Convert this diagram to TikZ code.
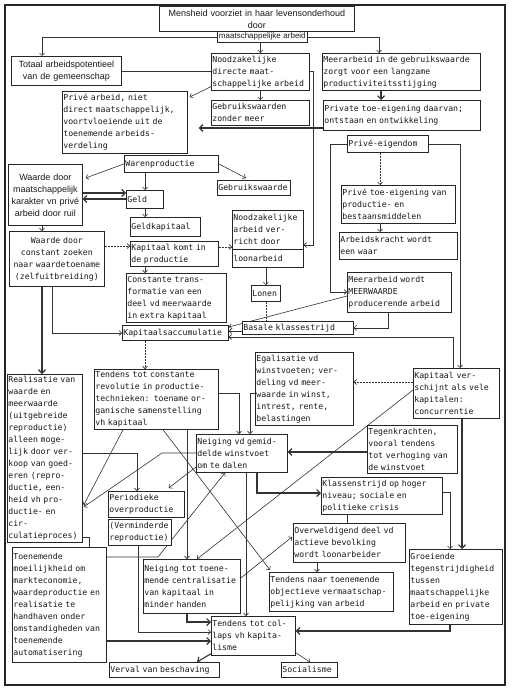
\documentclass[tikz,border=0pt]{standalone}
\usepackage{fontspec}
\newfontfamily\sansf{Liberation Sans}
\newfontfamily\monof{DejaVu Sans Mono}
\usetikzlibrary{arrows.meta,calc}
\pgfdeclarelayer{bg}
\pgfdeclarelayer{paper}
\pgfsetlayers{paper,bg,main}
\tikzset{
 box/.style={draw=black!85, line width=0.7pt, fill=white, inner xsep=1pt, inner ysep=0.5pt, align=left, font=\monof\fontsize{8.2}{12}\selectfont, text=black!90},
 sbox/.style={box, align=center, font=\sansf\fontsize{9}{12}\selectfont},
 cbox/.style={box, align=center},
 ln/.style={draw=black!80, line width=0.6pt},
 ar/.style={ln, -{Straight Barb[length=2.5pt,width=5pt]}},
 dar/.style={ar, dashed, dash pattern=on 2pt off 1pt},
 tar/.style={ln, line width=1.1pt, -{Straight Barb[length=3.5pt,width=7pt]}},
}
\newcommand\bx[7][]{%
 \pgfmathsetlengthmacro\bw{(#5-#3)*1pt}%
 \pgfmathsetlengthmacro\bh{(#6-#4)*1pt}%
 \pgfmathsetlengthmacro\tw{(#5-#3)*1pt-2pt}%
 \node[box,anchor=north west,minimum width=\bw,minimum height=\bh,text width=\tw,#1] (#2) at (#3,#4) {#7};}
\begin{document}
\begin{tikzpicture}[x=1pt,y=-1pt]
\begin{pgfonlayer}{paper}
\fill[white] (0,0) rectangle (512,690);
\end{pgfonlayer}
\useasboundingbox (0,0) rectangle (512,690);
\draw[black!85, line width=1.1pt] (5,5) rectangle (505,685);

\bx[sbox]{mens}{159}{6}{354}{31}{Mensheid voorziet in haar levensonderhoud\\door}
\bx[sbox,font=\sansf\fontsize{8}{9}\selectfont]{ma}{217}{31}{307}{42}{maatschappelijke arbeid}
\bx[sbox]{tot}{11}{56}{121}{85}{Totaal arbeidspotentieel\\van de gemeenschap}
\bx{nood}{211}{53}{309}{90}{Noodzakelijke\\directe maat-\\schappelijke arbeid}
\bx{meer}{322}{53}{480}{90}{Meerarbeid in de gebruikswaarde\\zorgt voor een langzame\\productiviteitsstijging}
\bx{priv}{62}{91}{187}{153}{Privé arbeid, niet\\direct maatschappelijk,\\voortvloeiende uit de\\toenemende arbeids-\\verdeling}
\bx{gbzm}{211}{100}{309}{125}{Gebruikswaarden\\zonder meer}
\bx{pte}{323}{100}{480}{130}{Private toe-eigening daarvan;\\ontstaan en ontwikkeling}
\bx{pe}{347}{135}{428}{152}{Privé-eigendom}
\bx{waren}{124}{155}{218}{172}{Warenproductie}
\bx[sbox]{wmk}{8}{164}{82}{225}{Waarde door\\maatschappelijk\\karakter vn privé\\arbeid door ruil}
\bx{gw}{217}{180}{290}{195}{Gebruikswaarde}
\bx{geld}{126}{190}{163}{208}{Geld}
\bx{pteb}{341}{185}{455}{223}{Privé toe-eigening van\\productie- en\\bestaansmiddelen}
\bx{gk}{130}{217}{200}{236}{Geldkapitaal}
\bx{nav}{232}{210}{303}{249}{Noodzakelijke\\arbeid ver-\\richt door}
\bx{loon}{232}{249}{303}{267}{loonarbeid}
\bx{ak}{339}{232}{457}{259}{Arbeidskracht wordt\\een waar}
\bx[cbox]{wcz}{9}{231}{104}{286}{Waarde door\\constant zoeken\\naar waardetoename\\(zelfuitbreiding)}
\bx{kkp}{130}{241}{218}{266}{Kapitaal komt in\\de productie}
\bx{lonen}{251}{285}{280}{301}{Lonen}
\bx{ctf}{126}{273}{226}{322}{Constante trans-\\formatie van een\\deel vd meerwaarde\\in extra kapitaal}
\bx{mwm}{347}{272}{451}{312}{Meerarbeid wordt\\MEERWAARDE\\producerende arbeid}
\bx{kac}{122}{325}{228}{340}{Kapitaalsaccumulatie}
\bx{bks}{242}{321}{353}{334}{Basale klassestrijd}
\bx{trev}{94}{369}{218}{429}{Tendens tot constante\\revolutie in productie-\\technieken: toename or-\\ganische samenstelling\\vh kapitaal}
\bx{egal}{255}{352}{353}{425}{Egalisatie vd\\winstvoeten; ver-\\deling vd meer-\\waarde in winst,\\intrest, rente,\\belastingen}
\bx{kvv}{413}{368}{499}{418}{Kapitaal ver-\\schijnt als vele\\kapitalen:\\concurrentie}
\bx{real}{7}{374}{82}{542}{Realisatie van\\waarde en\\meerwaarde\\(uitgebreide\\reproductie)\\alleen moge-\\lijk door ver-\\koop van goed-\\eren (repro-\\ductie, een-\\heid vh pro-\\ductie- en\\cir-\\culatieproces)}
\bx{ngw}{196}{434}{287}{472}{Neiging vd gemid-\\delde winstvoet\\om te dalen}
\bx{tegen}{367}{425}{457}{473}{Tegenkrachten,\\vooral tendens\\tot verhoging van\\de winstvoet}
\bx{khn}{321}{477}{442}{514}{Klassenstrijd op hoger\\niveau; sociale en\\politieke crisis}
\bx{pov}{108}{491}{184}{517}{Periodieke\\overproductie}
\bx{vr}{108}{519}{171}{545}{(Verminderde\\reproductie)}
\bx{ovw}{293}{523}{405}{562}{Overweldigend deel vd\\actieve bevolking\\wordt loonarbeider}
\bx{groei}{409}{549}{502}{624}{Groeiende\\tegenstrijdigheid\\tussen\\maatschappelijke\\arbeid en private\\toe-eigening}
\bx{toen}{12}{547}{106}{662}{Toenemende\\moeilijkheid om\\markteconomie,\\waardeproductie en\\realisatie te\\handhaven onder\\omstandigheden van\\toenemende\\automatisering}
\bx{ntc}{143}{559}{240}{613}{Neiging tot toene-\\mende centralisatie\\van kapitaal in\\minder handen}
\bx{tno}{269}{572}{393}{611}{Tendens naar toenemende\\objectieve vermaatschap-\\pelijking van arbeid}
\bx{col}{211}{616}{295}{655}{Tendens tot col-\\laps vh kapita-\\lisme}
\bx{verval}{109}{662}{219}{677}{Verval van beschaving}
\bx{soc}{281}{662}{337}{677}{Socialisme}

\begin{pgfonlayer}{bg}
% top
\draw[ar] (ma.west) -| (42,0 |- tot.north);
\draw[ar] (ma.east) -| (379,0 |- meer.north);
\draw[ar] (nood.north |- ma.south) -- (nood.north);
\draw[ar] (tot.east) -- (313,0 |- tot.east) -- (313,245) -- (nav.east |- 0,245);
\draw[ar] (nood.south) -- (gbzm.north);
\draw[ar] ($(nood.south west)+(0,-4)$) -- ($(priv.north east)+(2,6)$);
\draw[tar] (381,0 |- meer.south) -- (381,0 |- pte.north);
\draw[tar, shorten >=11pt] (pte.west |- 0,128) -- (priv.east |- 0,128);
\draw[ar] (pe.west) -| (330,292) -- (mwm.west |- 0,292);
\draw[ar] (pe.east) -| (460,0 |- kvv.north);
\draw[dar] (380,0 |- pe.south) -- (380,0 |- pteb.north);
\draw[ar] (380,0 |- pteb.south) -- (380,0 |- ak.north);
% warenproductie
\draw[ar] (waren.west) -- ($(wmk.east |- 0,178)+(3,0)$);
\draw[ar] (waren.east) -- ($(gw.north)+(-8,-2)$);
\draw[ar] (145,0 |- waren.south) -- (145,0 |- geld.north);
\draw[tar] (wmk.east |- 0,193) -- (geld.west |- 0,193);
\draw[tar] (geld.west |- 0,199) -- (wmk.east |- 0,199);
\draw[ar] (145,0 |- geld.south) -- (145,0 |- gk.north);
\draw[ar] (42,0 |- wmk.south) -- (42,0 |- wcz.north);
\draw[dar] (wcz.east |- 0,246) -- (kkp.west |- 0,246);
\draw[dar] (kkp.east |- 0,247) -- (nav.west |- 0,247);
\draw[ar] (145,0 |- kkp.south) -- (145,0 |- ctf.north);
\draw[ar] (lonen.north |- loon.south) -- (lonen.north);
\draw[ln, dashed, dash pattern=on 2pt off 1pt] (lonen.south) -- (lonen.south |- bks.north);
% accumulatie
\draw[ar] (mwm.west |- 0,296) -- (kac.east |- 0,327);
\draw[ar] (388,0 |- mwm.south) |- (bks.east);
\draw[ar] (bks.west |- 0,331) -- (kac.east |- 0,331);
\draw[ar] (453,0 |- kvv.north) |- (kac.east |- 0,337);
\draw[tar] (42,0 |- wcz.south) -- (42,0 |- real.north);
\draw[ar] (52,0 |- wcz.south) |- (kac.west |- 0,333);
\draw[dar] (145,0 |- kac.south) -- (145,0 |- trev.north);
% middle
\draw[dar] (kvv.west |- 0,382) -- (egal.east |- 0,382);
\draw[ar] (kvv.west |- 0,390) -- (197,0 |- ntc.north);
\draw[ar] (trev.east |- 0,393) -| (239,0 |- ngw.north);
\draw[ar] (egal.west |- 0,393) -| (250,0 |- ngw.north);
\draw[ar] (187,0 |- trev.south) -- (187,0 |- ntc.north);
\draw[ar] (163,0 |- trev.south) -- ($(tno.north west)+(1,-2)$);
\draw[ar] (123,0 |- trev.south) -- ($(real.east |- 0,505)+(1,0)$);
\draw[ar] (ngw.west |- 0,453) -- (162,453) -- ($(real.east |- 0,507)+(1,0)$);
\draw[ar] (real.east |- 0,453) -| (137,0 |- pov.north);
\draw[ar] (ngw.west |- 0,467) -- ($(pov.north east)+(-16,-3)$);
\draw[tar] (tegen.west |- 0,452) -- (ngw.east |- 0,452);
\draw[tar] (257,0 |- ngw.south) |- (khn.west |- 0,493);
\draw[ar] (246,0 |- ngw.south) -- (246,0 |- col.north);
\draw[ar] (khn.east |- 0,492) -| (450,0 |- groei.north);
\draw[tar] (462,0 |- kvv.south) -- (462,0 |- groei.north);
\draw[ln] (347,0 |- khn.south) -- (347,0 |- ovw.north);
\draw[ar] (317,0 |- ovw.south) -- (317,0 |- tno.north);
\draw[ar] (ntc.east |- 0,578) -- ($(ovw.west |- 0,537)+(-1,0)$);
\draw[ln] (real.east |- 0,537) -| (89,0 |- toen.north);
\draw[ar] (toen.east |- 0,557) -- (158,557) -- (225,0 |- ngw.south);
% bottom
\draw[ar] (138,0 |- vr.south) |- (col.west |- 0,632);
\draw[tar] (187,0 |- ntc.south) |- (col.west |- 0,622);
\draw[tar] (toen.east |- 0,641) -- (col.west |- 0,641);
\draw[tar] (450,0 |- groei.south) |- (col.east |- 0,631);
\draw[tar] ($(col.south west)+(0,-2)$) -- (197,0 |- verval.north);
\draw[ar] ($(col.south east)+(0,-3)$) -- (310,0 |- soc.north);
\end{pgfonlayer}
\end{tikzpicture}
\end{document}
